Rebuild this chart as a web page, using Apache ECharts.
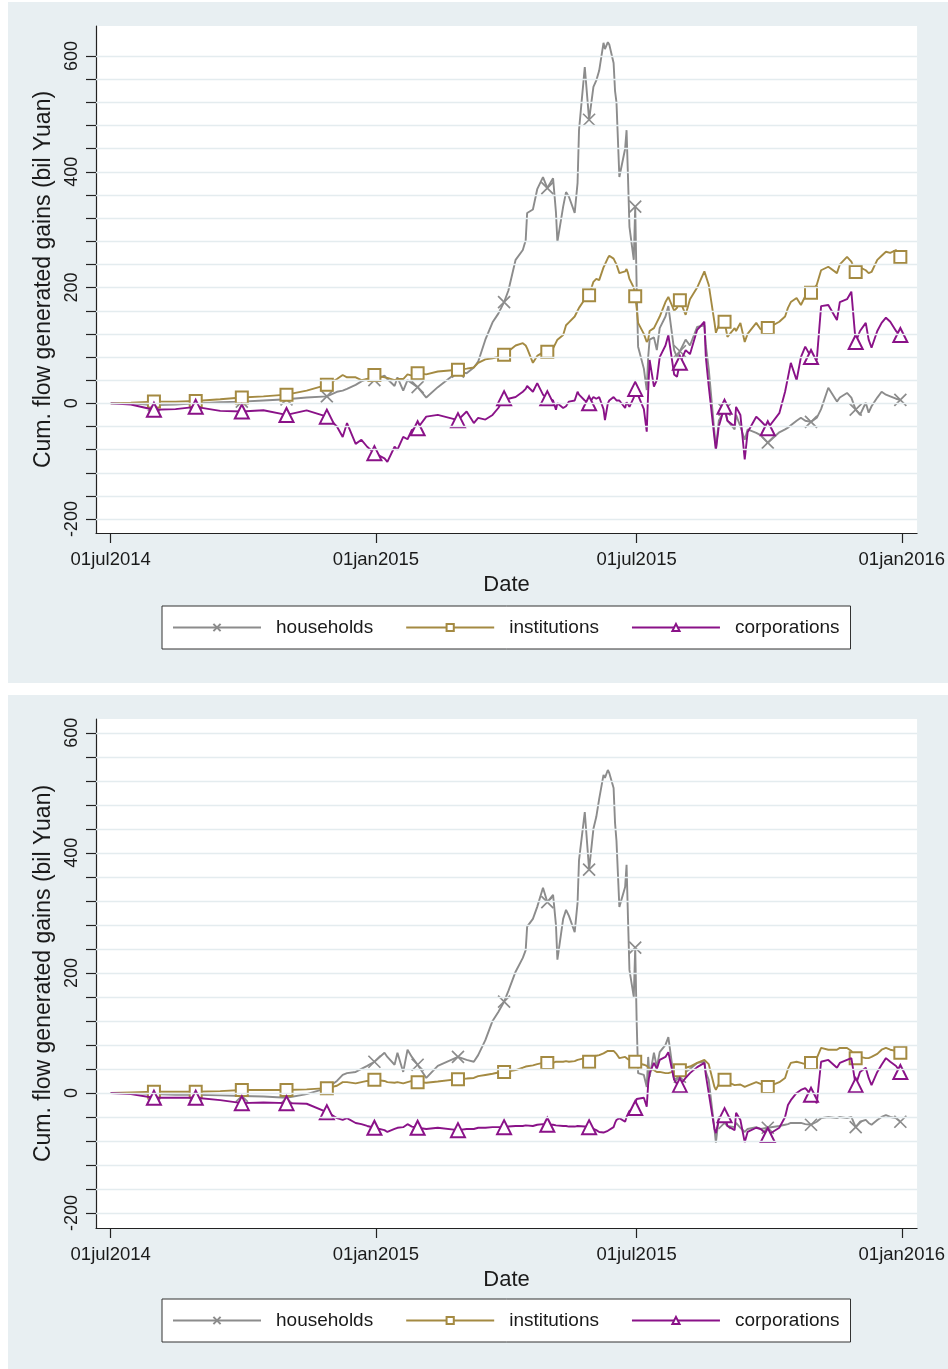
<!DOCTYPE html>
<html><head><meta charset="utf-8">
<script src="https://cdn.jsdelivr.net/npm/echarts@6/dist/echarts.min.js"></script>
<style>
html,body{margin:0;padding:0;background:#fff;width:948px;height:1369px;overflow:hidden;}
.panel{position:absolute;left:8px;width:940px;background:#e8eff2;}
#p1{top:2px;height:681px;}
#p2{top:695px;height:674px;}
</style></head><body>
<div id="p1" class="panel"></div><div id="p2" class="panel"></div>
<script>
const dates = [
'2014-07-01','2014-07-15','2014-07-31','2014-08-15','2014-08-29','2014-09-15','2014-09-30','2014-10-15','2014-10-31','2014-11-14',
'2014-11-28','2014-12-05','2014-12-09','2014-12-12','2014-12-18','2014-12-22','2014-12-26','2014-12-31','2015-01-07','2015-01-09',
'2015-01-14','2015-01-16','2015-01-20','2015-01-23','2015-01-26','2015-01-30','2015-02-05','2015-02-13','2015-02-27','2015-03-05',
'2015-03-10','2015-03-13','2015-03-18','2015-03-23','2015-03-27','2015-03-31','2015-04-03','2015-04-08','2015-04-13','2015-04-15',
'2015-04-16','2015-04-20','2015-04-23','2015-04-27','2015-04-30','2015-05-04','2015-05-06','2015-05-07','2015-05-11','2015-05-13',
'2015-05-15','2015-05-19','2015-05-21','2015-05-22','2015-05-26','2015-05-29','2015-06-01','2015-06-03','2015-06-05','2015-06-08',
'2015-06-09','2015-06-11','2015-06-12','2015-06-15','2015-06-16','2015-06-17','2015-06-19','2015-06-23','2015-06-24','2015-06-25',
'2015-06-26','2015-06-29','2015-06-30','2015-07-01','2015-07-02','2015-07-06','2015-07-08','2015-07-09','2015-07-10','2015-07-13',
'2015-07-15','2015-07-17','2015-07-21','2015-07-23','2015-07-27','2015-07-29','2015-07-31','2015-08-04','2015-08-07','2015-08-12',
'2015-08-17','2015-08-18','2015-08-20','2015-08-24','2015-08-25','2015-08-27','2015-08-31','2015-09-02','2015-09-07','2015-09-08',
'2015-09-11','2015-09-14','2015-09-16','2015-09-22','2015-09-25','2015-09-30','2015-10-08','2015-10-12','2015-10-14','2015-10-16',
'2015-10-20','2015-10-23','2015-10-26','2015-10-30','2015-11-03','2015-11-06','2015-11-11','2015-11-17','2015-11-19','2015-11-24',
'2015-11-27','2015-11-30','2015-12-03','2015-12-07','2015-12-09','2015-12-11','2015-12-15','2015-12-18','2015-12-21','2015-12-24',
'2015-12-28','2015-12-31'];

const markerDates = ['2014-07-31','2014-08-29','2014-09-30','2014-10-31','2014-11-28','2014-12-31','2015-01-30','2015-02-27','2015-03-31',
'2015-04-30','2015-05-29','2015-06-30','2015-07-31','2015-08-31','2015-09-30','2015-10-30','2015-11-30','2015-12-31'];

// Panel 1
const households1 = [0,0,-3,-2,0,2,3,5,7,10, 12,20,22,25,32,38,42,40,48,42, 30,45,22,40,35,28,10,28,55,52,
62,72,110,140,155,175,195,248,265,282, 329,335,370,391,372,389,330,279,340,365, 357,329,381,472,581,490,547,558,575,623,
612,624,620,588,540,520,391,440,472,390, 305,248,340,200,98,60,23,80,110,114, 92,130,150,168,92,80,90,110,100,132,
135,100,60,-50,-80,-30,-11,-30,-45,-20, -40,-63,-45,-51,-55,-68,-50,-45,-42,-38, -30,-25,-30,-32,-25,-10,27,3,10,18,
10,-11,-20,1,-16,-5,10,20,15,12, 8,6];
const institutions1 = [0,1,3,3,4,7,10,12,15,22, 32,42,49,45,45,40,42,49,45,44, 40,42,42,50,48,52,50,55,58,60,
62,70,76,78,80,84,90,100,104,100, 95,70,82,88,89,95,105,110,118,135, 140,150,160,165,180,187,210,215,213,235,
240,251,255,250,245,240,225,228,232,225, 215,200,185,165,139,120,106,110,125,130, 140,150,175,184,160,165,178,153,180,200,
228,230,205,140,122,135,141,115,130,125, 139,106,120,139,128,130,141,150,165,175, 182,170,185,191,205,230,236,225,240,253,
245,227,235,230,225,227,248,255,262,260, 265,253];
const corporations1 = [0,-2,-11,-10,-6,-13,-14,-12,-20,-12, -23,-40,-58,-34,-70,-63,-75,-86,-95,-101, -75,-80,-58,-62,-46,-43,-23,-20,-29,-14,
-34,-25,-28,-20,-8,9,8,11,20,25, 30,20,35,15,9,5,-11,0,-8,-5, 3,5,20,15,5,0,11,8,11,-10,
-29,0,5,11,8,5,5,-8,2,0, -6,10,25,20,18,-10,-49,20,75,29, 40,80,100,118,50,46,70,92,85,127,
141,80,30,-60,-80,-40,-6,-30,-40,-6, -20,-97,-50,-23,-30,-43,-17,20,45,70, 40,80,98,80,75,168,170,144,175,180,
193,106,125,139,110,96,125,139,148,141, 125,118];

// Panel 2
const households2 = [0,0,-2,-3,-3,-4,-5,-6,-8,-2, 8,20,30,33,35,40,45,52,67,60, 47,67,35,72,60,47,25,45,60,55,
52,63,88,120,135,152,170,202,225,238, 277,290,310,342,318,330,280,222,290,305, 295,268,317,388,468,372,440,460,490,530,
525,538,533,508,450,420,310,343,380,290, 205,160,242,120,33,30,10,60,27,67, 43,68,80,93,22,25,27,35,40,50,
52,35,22,-60,-83,-40,-50,-55,-57,-50, -58,-65,-60,-57,-60,-58,-55,-53,-52,-50, -50,-50,-52,-53,-48,-42,-40,-42,-40,-42,
-40,-57,-48,-45,-50,-53,-45,-40,-37,-40, -42,-48];
const institutions2 = [0,1,2,2,2,3,5,5,5,6, 8,12,18,18,16,18,20,22,20,18, 17,18,16,18,20,18,17,19,23,24,
25,28,30,32,34,35,36,38,42,44, 45,46,48,50,50,50,52,51,52,53, 52,53,55,55,58,52,60,62,63,66,
68,70,72,70,68,65,58,60,58,56, 55,54,52,50,48,47,45,43,40,38, 35,35,33,33,36,37,38,42,44,50,
55,54,48,10,5,15,22,18,13,16, 14,10,12,18,15,10,18,25,40,50, 52,50,48,50,58,75,72,72,75,75,
70,58,60,58,58,60,65,72,75,72, 70,67];
const corporations2 = [0,-2,-8,-8,-8,-12,-17,-16,-17,-18, -32,-42,-45,-42,-50,-52,-55,-58,-62,-65, -60,-58,-57,-52,-56,-58,-60,-58,-62,-60,
-60,-58,-58,-57,-57,-57,-56,-55,-55,-54, -54,-55,-53,-52,-53,-53,-54,-55,-55,-55, -56,-56,-55,-55,-56,-57,-60,-62,-65,-66,
-67,-63,-60,-57,-50,-45,-42,-48,-40,-35, -30,-25,-25,-10,-7,-8,-23,15,33,50, 40,55,60,68,22,15,13,25,33,43,
50,30,0,-60,-67,-45,-37,-55,-62,-33, -45,-82,-65,-58,-60,-70,-58,-40,-20,-12, 0,5,8,-3,-17,52,55,42,50,55,
58,13,35,42,25,13,35,47,58,52, 45,35];

const seriesNames = ['households','institutions','corporations'];
const yTicks = [-200,-160,-120,-80,-40,0,40,80,120,160,200,240,280,320,360,400,440,480,520,560,600];
const yLabels = [-200,0,200,400,600];
const xTickDates = ['2014-07-01','2015-01-01','2015-07-01','2016-01-01'];
const xTickLabels = ['01jul2014','01jan2015','01jul2015','01jan2016'];

const FONT = 'Liberation Sans, Arial, sans-serif';
const COLORS = ['#8c8c8c', '#a48a42', '#8a1288'];
const SYMBOLS = ['path://M0,0L10,10M10,0L0,10', 'emptyRect', 'emptyTriangle'];
const SYMSIZE = [12, 12, 14];

function dayOf(s){ const p = s.split('-').map(Number); return (Date.UTC(p[0],p[1]-1,p[2]) - Date.UTC(2014,6,1)) / 864e5; }
const markSet = new Set(markerDates);
const xTickDays = xTickDates.map(dayOf);

function toData(vals){
  return dates.map((d,i) => markSet.has(d) ? {value:[dayOf(d), vals[i]]} : {value:[dayOf(d), vals[i]], symbol:'none'});
}

function makeOption(valsList, yMin, yMax){
  const series = [{
    type:'line', data:[[0,0]], silent:true, z:1, symbol:'none', lineStyle:{opacity:0},
    markLine:{silent:true, symbol:['none','none'], label:{show:false}, animation:false,
      lineStyle:{color:'#e4ecef', width:1.3, type:'solid'},
      emphasis:{disabled:true},
      data: yTicks.map(v => ({yAxis:v}))}
  }];
  valsList.forEach((vals,k) => {
    series.push({
      name: seriesNames[k], type:'line', z:2+k, data: toData(vals),
      showSymbol:true, showAllSymbol:true,
      symbol: SYMBOLS[k], symbolSize: SYMSIZE[k],
      lineStyle:{color:COLORS[k], width:1.9},
      itemStyle:{color:COLORS[k], borderColor:COLORS[k], borderWidth:1.7},
      emphasis:{disabled:true}, animation:false
    });
  });
  return {
    animation:false,
    backgroundColor:'transparent',
    textStyle:{fontFamily:FONT},
    grid:{left:88, top:24, width:823, show:true, backgroundColor:'#fff', borderWidth:0},
    xAxis:{type:'value', min:-10.2, max:559.6,
      axisLine:{show:true, onZero:false, lineStyle:{color:'#222', width:1.2}},
      axisTick:{show:true, length:10, customValues:xTickDays, lineStyle:{color:'#222', width:1.2}},
      axisLabel:{customValues:xTickDays, formatter:v => xTickLabels[xTickDays.indexOf(v)], margin:17, fontSize:18.5, color:'#1a1a1a', fontFamily:FONT},
      splitLine:{show:false},
      name:'Date', nameLocation:'middle', nameGap:37, nameTextStyle:{fontSize:22, color:'#1a1a1a', fontFamily:FONT}},
    yAxis:{type:'value', min:yMin, max:yMax,
      axisLine:{show:true, onZero:false, lineStyle:{color:'#222', width:1.2}},
      axisTick:{show:true, length:10, customValues:yTicks, lineStyle:{color:'#222', width:1.2}},
      axisLabel:{customValues:yLabels, rotate:90, margin:15, fontSize:18, color:'#1a1a1a', fontFamily:FONT},
      splitLine:{show:false},
      name:'Cum. flow generated gains (bil Yuan)', nameLocation:'middle', nameGap:31, nameRotate:90,
      nameTextStyle:{fontSize:23, color:'#1a1a1a', fontFamily:FONT}},
    legend:{data:seriesNames, left:154, top:604, orient:'horizontal',
      itemWidth:88, itemHeight:9, itemGap:32, padding:[12,11,12,10],
      backgroundColor:'#fff', borderColor:'#333', borderWidth:1, borderRadius:0,
      textStyle:{fontSize:19, color:'#1a1a1a', fontFamily:FONT, padding:[0,0,0,10]}},
    series
  };
}

const c1 = echarts.init(document.getElementById('p1'), null, {renderer:'canvas'});
const o1 = makeOption([households1, institutions1, corporations1], -224, 652);
o1.grid.height = 507;
c1.setOption(o1);
const c2 = echarts.init(document.getElementById('p2'), null, {renderer:'canvas'});
const o2 = makeOption([households2, institutions2, corporations2], -225, 623);
o2.grid.height = 509;
c2.setOption(o2);
</script>
</body></html>
